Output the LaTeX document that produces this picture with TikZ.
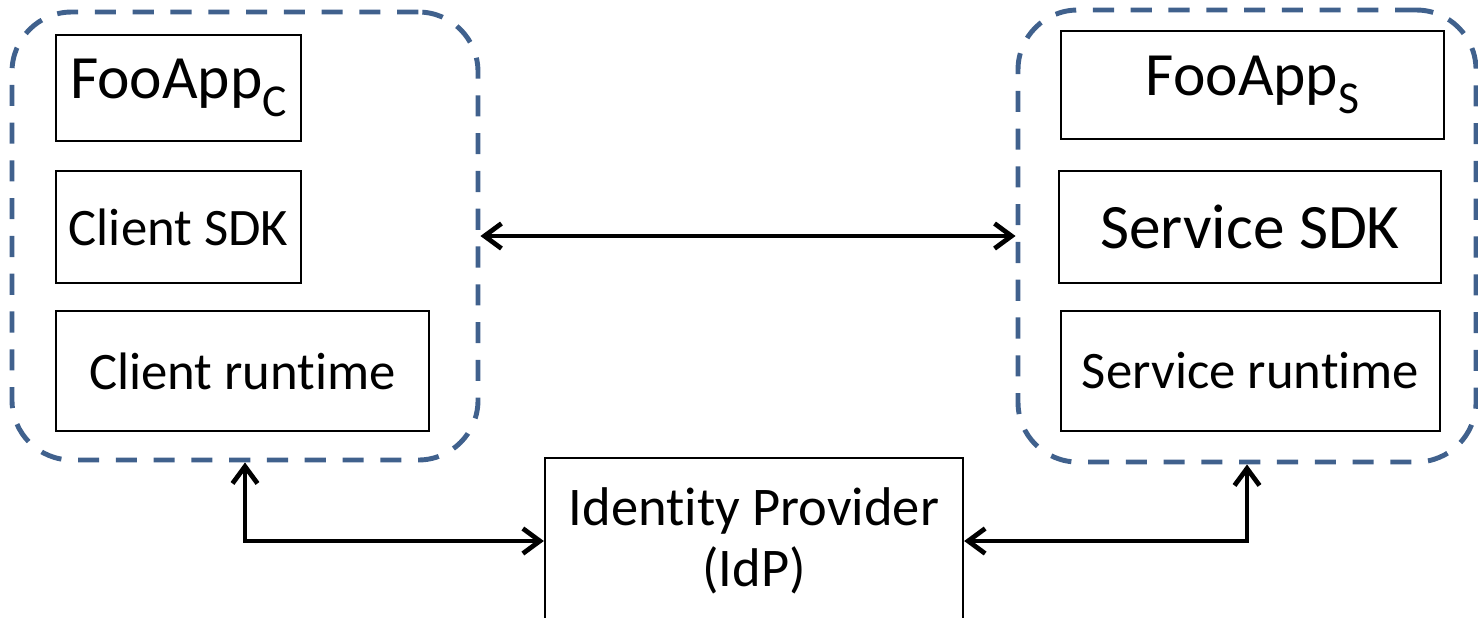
\documentclass[tikz,border=0pt]{standalone}
\usepackage{fontspec}
\setmainfont{Carlito}[Ligatures=NoCommon]
\usetikzlibrary{arrows.meta,positioning}
\definecolor{groupblue}{RGB}{64,97,141}
\newcommand{\lowsub}[1]{\raisebox{-10pt}{\fontsize{26}{26}\selectfont #1}}

\begin{document}
\begin{tikzpicture}[
      layer/.style={
        draw=black,
        line width=1.3pt,
        fill=white,
        align=center,
        inner sep=0pt
      },
      group/.style={
        draw=groupblue,
        line width=2.8pt,
        dash pattern=on 12pt off 9.5pt,
        rounded corners=34pt,
        inner sep=0pt
      },
      arr/.style={{Straight Barb[length=3.4mm,width=5mm]}-{Straight Barb[length=3.4mm,width=5mm]}, line width=2.7pt}
    ]
    \useasboundingbox (0,0) rectangle (29.56,-12.34);

    \node[group, minimum width=9.32cm, minimum height=8.96cm] (client) at (4.90,-4.72) {};
    \node[group, minimum width=9.16cm, minimum height=9.04cm] (service) at (24.94,-4.72) {};

    \node[layer, minimum width=4.90cm, minimum height=2.12cm, font=\fontsize{35}{42}\selectfont] (fooC) at (3.57,-1.76)
    {FooApp\lowsub{C}};
    \node[layer, minimum width=4.90cm, minimum height=2.24cm, font=\fontsize{30}{36}\selectfont] (clientSdk) at (3.57,-4.54)
    {Client SDK};
    \node[layer, minimum width=7.46cm, minimum height=2.40cm, font=\fontsize{30}{36}\selectfont] (clientRt) at (4.85,-7.42)
    {Client runtime};

    \node[layer, minimum width=7.66cm, minimum height=2.16cm, font=\fontsize{35}{42}\selectfont] (fooS) at (25.05,-1.70)
    {FooApp\lowsub{S}};
    \node[layer, minimum width=7.64cm, minimum height=2.24cm, font=\fontsize{36}{43}\selectfont] (serviceSdk) at (25.00,-4.54)
    {Service SDK};
    \node[layer, minimum width=7.58cm, minimum height=2.40cm, font=\fontsize{30}{36}\selectfont] (serviceRt) at (25.01,-7.42)
    {Service runtime};

    \node[layer, minimum width=8.36cm, minimum height=3.32cm, font=\fontsize{31}{35}\selectfont] (idp) at (15.08,-10.82)
    {Identity Provider\\(IdP)};

    \draw[arr] (client.east) -- (service.west);
    \draw[arr] (client.south) |- (idp.west);
    \draw[arr] (idp.east) -| (service.south);
    \end{tikzpicture}
\end{document}
